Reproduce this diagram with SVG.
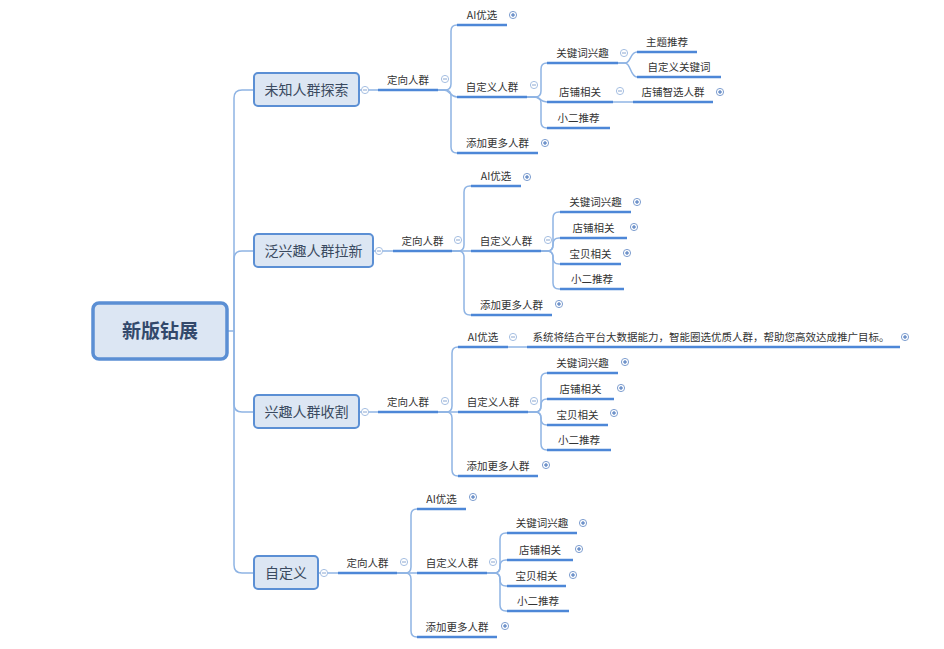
<svg xmlns="http://www.w3.org/2000/svg" xmlns:xlink="http://www.w3.org/1999/xlink" width="944" height="649" viewBox="0 0 944 649">
<style>
.conn{fill:none;stroke:#8fb4e4;stroke-width:1.5}
.ul{stroke:#4d87d7;stroke-width:2.6;fill:none}
.t{font-family:"Noto Sans CJK SC","Microsoft YaHei",sans-serif;font-size:10.5px;fill:#333;text-anchor:middle}
.bn rect{fill:#dce6f3;stroke:#5b8fd4;stroke-width:2}
.bt{font-family:"Noto Sans CJK SC","Microsoft YaHei",sans-serif;font-size:14px;fill:#3a4a60;text-anchor:middle}
.rt{font-family:"Noto Sans CJK SC","Microsoft YaHei",sans-serif;font-size:19px;font-weight:bold;fill:#33496b;text-anchor:middle}
.tg{fill:#fff;stroke:#a6bfe2;stroke-width:1}
.tp{fill:#fff;stroke:#7f9fd0;stroke-width:1}
.sg{stroke:#8aa6d0;stroke-width:1}
.sp{stroke:#3f6fb8;stroke-width:1}
</style>
<defs>
<g id="mi"><circle class="tg" r="3.6"/><line class="sg" x1="-2" y1="0" x2="2" y2="0"/></g>
<g id="pl"><circle class="tp" r="3.6"/><line class="sp" x1="-2" y1="0" x2="2" y2="0"/><line class="sp" x1="0" y1="-2" x2="0" y2="2"/></g>
</defs>
<rect width="944" height="649" fill="#fff"/>
<g id="connectors">
<path class="conn" d="M227 331 H234 V98 Q234 90 242 90 H254"/>
<path class="conn" d="M234 331 V259 Q234 251 242 251 H254"/>
<path class="conn" d="M234 331 V404 Q234 412 242 412 H254"/>
<path class="conn" d="M234 331 V565 Q234 573 242 573 H254"/>
<path class="conn" d="M359 90 H378"/>
<path class="conn" d="M373 251 H393"/>
<path class="conn" d="M359 412 H378"/>
<path class="conn" d="M318 573 H338"/>
<path class="conn" d="M438 90 H445 Q451 90 451 84 V31 Q451 25 457 25"/>
<path class="conn" d="M438 90 H444 C450 90 450 97 457 97"/>
<path class="conn" d="M438 90 H445 Q451 90 451 96 V147 Q451 153 457 153"/>
<path class="conn" d="M527 97 H535 Q541 97 541 91 V69 Q541 63 547 63"/>
<path class="conn" d="M527 97 H534 C540 97 540 102 547 102"/>
<path class="conn" d="M527 97 H535 Q541 97 541 103 V122 Q541 128 547 128"/>
<path class="conn" d="M618 63 H625 C631 63 630 52 637 52"/>
<path class="conn" d="M618 63 H625 C631 63 630 77 637 77"/>
<path class="conn" d="M613 102 H633"/>
<path class="conn" d="M452 251 H458 Q464 251 464 245 V192 Q464 186 470 186 H471"/>
<path class="conn" d="M452 251 H471"/>
<path class="conn" d="M452 251 H458 Q464 251 464 257 V309 Q464 315 470 315 H471"/>
<path class="conn" d="M541 251 H547 Q553 251 553 245 V218 Q553 212 559 212 H560"/>
<path class="conn" d="M541 251 H547 Q553 251 553 245 V244 Q553 238 559 238 H560"/>
<path class="conn" d="M541 251 H547 Q553 251 553 257 V258 Q553 264 559 264 H560"/>
<path class="conn" d="M541 251 H547 Q553 251 553 257 V283 Q553 289 559 289 H560"/>
<path class="conn" d="M438 412 H446 Q452 412 452 406 V353 Q452 347 458 347"/>
<path class="conn" d="M508 347 H527"/>
<path class="conn" d="M438 412 H458"/>
<path class="conn" d="M438 412 H446 Q452 412 452 418 V470 Q452 476 458 476"/>
<path class="conn" d="M528 412 H535 Q541 412 541 406 V379 Q541 373 547 373"/>
<path class="conn" d="M528 412 H535 Q541 412 541 406 V405 Q541 399 547 399"/>
<path class="conn" d="M528 412 H535 Q541 412 541 418 V419 Q541 425 547 425"/>
<path class="conn" d="M528 412 H535 Q541 412 541 418 V444 Q541 450 547 450"/>
<path class="conn" d="M397 573 H405 Q411 573 411 567 V515 Q411 509 417 509"/>
<path class="conn" d="M397 573 H417"/>
<path class="conn" d="M397 573 H405 Q411 573 411 579 V631 Q411 637 417 637"/>
<path class="conn" d="M487 573 H494 Q500 573 500 567 V539 Q500 533 506 533 H507"/>
<path class="conn" d="M487 573 H494 Q500 573 500 567 V566 Q500 560 506 560 H507"/>
<path class="conn" d="M487 573 H494 Q500 573 500 579 V580 Q500 586 506 586 H507"/>
<path class="conn" d="M487 573 H494 Q500 573 500 579 V605 Q500 611 506 611 H507"/>
</g>
<g id="root"><rect x="93" y="303" width="134" height="56" rx="6" fill="#dce6f3" stroke="#5b8fd4" stroke-width="3.5"/><text class="rt" x="160" y="338">新版钻展</text></g>
<g id="b1" class="bn"><rect x="254" y="73" width="105" height="33" rx="4"/><text class="bt" x="306.5" y="95">未知人群探索</text><use href="#mi" x="365" y="90"/></g>
<g id="b2" class="bn"><rect x="254" y="234" width="119" height="33" rx="4"/><text class="bt" x="313.5" y="256">泛兴趣人群拉新</text><use href="#mi" x="379" y="251"/></g>
<g id="b3" class="bn"><rect x="254" y="395" width="105" height="33" rx="4"/><text class="bt" x="306.5" y="417">兴趣人群收割</text><use href="#mi" x="365" y="412"/></g>
<g id="b4" class="bn"><rect x="254" y="556" width="64" height="33" rx="4"/><text class="bt" x="286" y="578">自定义</text><use href="#mi" x="324" y="573"/></g>

<g id="b1-dx"><line class="ul" x1="378" y1="90" x2="438" y2="90"/><text class="t" x="408" y="84">定向人群</text><use href="#mi" x="445" y="79"/></g>
<g id="b1-ai"><line class="ul" x1="457" y1="25" x2="507" y2="25"/><text class="t" x="482" y="19">AI优选</text><use href="#pl" x="513" y="15"/></g>
<g id="b1-zdy"><line class="ul" x1="457" y1="97" x2="527" y2="97"/><text class="t" x="492" y="91">自定义人群</text><use href="#mi" x="534" y="85"/></g>
<g id="b1-add"><line class="ul" x1="457" y1="153" x2="538" y2="153"/><text class="t" x="497.5" y="147">添加更多人群</text><use href="#pl" x="545" y="143"/></g>
<g id="b1-gjc"><line class="ul" x1="547" y1="63" x2="618" y2="63"/><text class="t" x="582.5" y="57">关键词兴趣</text><use href="#mi" x="624" y="53"/></g>
<g id="b1-dp"><line class="ul" x1="547" y1="102" x2="613" y2="102"/><text class="t" x="580" y="96">店铺相关</text><use href="#mi" x="620" y="91"/></g>
<g id="b1-xe"><line class="ul" x1="547" y1="128" x2="610" y2="128"/><text class="t" x="578.5" y="122">小二推荐</text></g>
<g id="b1-zt"><line class="ul" x1="637" y1="52" x2="697" y2="52"/><text class="t" x="667" y="46">主题推荐</text></g>
<g id="b1-zdygjc"><line class="ul" x1="637" y1="77" x2="721" y2="77"/><text class="t" x="679" y="71">自定义关键词</text></g>
<g id="b1-dpzx"><line class="ul" x1="633" y1="102" x2="713" y2="102"/><text class="t" x="673" y="96">店铺智选人群</text><use href="#pl" x="720" y="92"/></g>

<g id="b2-dx"><line class="ul" x1="393" y1="251" x2="452" y2="251"/><text class="t" x="422.5" y="245">定向人群</text><use href="#mi" x="458" y="240"/></g>
<g id="b2-ai"><line class="ul" x1="471" y1="186" x2="521" y2="186"/><text class="t" x="496" y="180">AI优选</text><use href="#pl" x="527" y="177"/></g>
<g id="b2-zdy"><line class="ul" x1="471" y1="251" x2="541" y2="251"/><text class="t" x="506" y="245">自定义人群</text><use href="#mi" x="548" y="240"/></g>
<g id="b2-add"><line class="ul" x1="471" y1="315" x2="552" y2="315"/><text class="t" x="511.5" y="309">添加更多人群</text><use href="#pl" x="559" y="304"/></g>
<g id="b2-gjc"><line class="ul" x1="560" y1="212" x2="631" y2="212"/><text class="t" x="595.5" y="206">关键词兴趣</text><use href="#pl" x="637" y="202"/></g>
<g id="b2-dp"><line class="ul" x1="560" y1="238" x2="627" y2="238"/><text class="t" x="593.5" y="232">店铺相关</text><use href="#pl" x="634" y="227"/></g>
<g id="b2-bb"><line class="ul" x1="560" y1="264" x2="621" y2="264"/><text class="t" x="590.5" y="258">宝贝相关</text><use href="#pl" x="627" y="253"/></g>
<g id="b2-xe"><line class="ul" x1="560" y1="289" x2="624" y2="289"/><text class="t" x="592" y="283">小二推荐</text></g>

<g id="b3-dx"><line class="ul" x1="378" y1="412" x2="438" y2="412"/><text class="t" x="408" y="406">定向人群</text><use href="#mi" x="445" y="401"/></g>
<g id="b3-ai"><line class="ul" x1="458" y1="347" x2="508" y2="347"/><text class="t" x="483" y="341">AI优选</text><use href="#mi" x="513" y="337"/></g>
<g id="b3-desc"><line class="ul" x1="527" y1="347" x2="900" y2="347"/><text class="t" x="711" y="341">系统将结合平台大数据能力，智能圈选优质人群，帮助您高效达成推广目标。</text><use href="#pl" x="905" y="337"/></g>
<g id="b3-zdy"><line class="ul" x1="458" y1="412" x2="528" y2="412"/><text class="t" x="493" y="406">自定义人群</text><use href="#mi" x="534" y="401"/></g>
<g id="b3-add"><line class="ul" x1="458" y1="476" x2="538" y2="476"/><text class="t" x="498" y="470">添加更多人群</text><use href="#pl" x="546" y="465"/></g>
<g id="b3-gjc"><line class="ul" x1="547" y1="373" x2="618" y2="373"/><text class="t" x="582.5" y="367">关键词兴趣</text><use href="#pl" x="625" y="362"/></g>
<g id="b3-dp"><line class="ul" x1="547" y1="399" x2="614" y2="399"/><text class="t" x="580.5" y="393">店铺相关</text><use href="#pl" x="621" y="388"/></g>
<g id="b3-bb"><line class="ul" x1="547" y1="425" x2="608" y2="425"/><text class="t" x="577.5" y="419">宝贝相关</text><use href="#pl" x="614" y="413"/></g>
<g id="b3-xe"><line class="ul" x1="547" y1="450" x2="611" y2="450"/><text class="t" x="579" y="444">小二推荐</text></g>

<g id="b4-dx"><line class="ul" x1="338" y1="573" x2="397" y2="573"/><text class="t" x="367.5" y="567">定向人群</text><use href="#mi" x="404" y="562"/></g>
<g id="b4-ai"><line class="ul" x1="417" y1="509" x2="466" y2="509"/><text class="t" x="441.5" y="503">AI优选</text><use href="#pl" x="473" y="497"/></g>
<g id="b4-zdy"><line class="ul" x1="417" y1="573" x2="487" y2="573"/><text class="t" x="452" y="567">自定义人群</text><use href="#mi" x="493" y="562"/></g>
<g id="b4-add"><line class="ul" x1="417" y1="637" x2="497" y2="637"/><text class="t" x="457" y="631">添加更多人群</text><use href="#pl" x="505" y="626"/></g>
<g id="b4-gjc"><line class="ul" x1="507" y1="533" x2="577" y2="533"/><text class="t" x="542" y="527">关键词兴趣</text><use href="#pl" x="583" y="523"/></g>
<g id="b4-dp"><line class="ul" x1="507" y1="560" x2="573" y2="560"/><text class="t" x="540" y="554">店铺相关</text><use href="#pl" x="579" y="549"/></g>
<g id="b4-bb"><line class="ul" x1="507" y1="586" x2="566" y2="586"/><text class="t" x="536.5" y="580">宝贝相关</text><use href="#pl" x="573" y="575"/></g>
<g id="b4-xe"><line class="ul" x1="507" y1="611" x2="569" y2="611"/><text class="t" x="538" y="605">小二推荐</text></g>
</svg>
